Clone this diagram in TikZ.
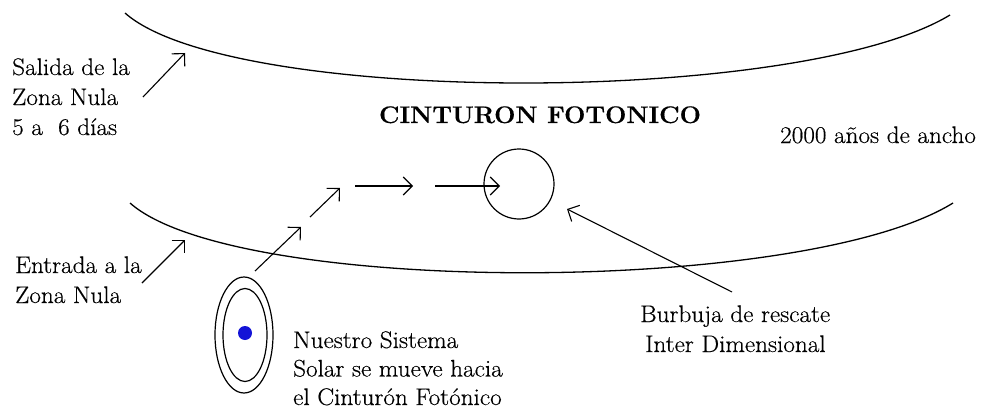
\documentclass[tikz,border=0pt]{standalone}
\usepackage{fontspec}
\setmainfont{Latin Modern Roman}[FakeStretch=1.05, FakeBold=0.4]
\usetikzlibrary{arrows.meta,shapes.geometric}
\definecolor{sunblue}{RGB}{20,20,215}
\tikzset{
  txt/.style={font=\fontsize{24}{30}\selectfont, inner sep=0pt, align=left, anchor=base west},
  title/.style={font=\fontsize{24}{28}\bfseries\selectfont, inner sep=0pt, anchor=base},
  arr/.style={line width=1.1pt, -{Straight Barb[length=9pt,width=18pt,line width=1.1pt]}},
  curve/.style={line width=1.3pt},
  orbit/.style={line width=1.2pt},
}
\begin{document}
\begin{tikzpicture}[x=1pt,y=-1pt]
\useasboundingbox (0,0) rectangle (988,412);
% belt boundaries
\coordinate (t0) at (125,13);  \coordinate (t1) at (950,15);
\coordinate (b0) at (130,203); \coordinate (b1) at (953,203);
\draw[curve] (t0) .. controls (230,106) and (800,106) .. (t1);
\draw[curve] (b0) .. controls (235,296) and (803,296) .. (b1);
% texts (base anchor = baseline of the last line)
\node[title] (belt) at (540,123) {CINTURON FOTONICO};
\node[txt] (width) at (780,143) {2000 años de ancho};
\node[txt] (exit) at (12,135) {Salida de la\\Zona Nula\\5 a\ \ 6 días};
\node[txt] (entry) at (15,303) {Entrada a la\\Zona Nula};
\node[txt, font=\fontsize{24}{28.5}\selectfont] (solar) at (293,405) {Nuestro Sistema\\Solar se mueve hacia\\el Cinturón Fotónico};
\node[txt] (bubtxt) at (640,352) {Burbuja de rescate\\\hspace{5pt}Inter Dimensional};
% solar system
\node[draw, orbit, ellipse, minimum width=58pt, minimum height=116pt, inner sep=0pt] (outer) at (244,335) {};
\node[draw, orbit, ellipse, minimum width=44pt, minimum height=93pt, inner sep=0pt] (inner) at (245,335) {};
\node[circle, fill=sunblue, minimum size=14pt, inner sep=0pt] (sun) at (245,333) {};
% bubble
\node[draw, orbit, circle, minimum size=70pt, inner sep=0pt] (bubble) at (519,184) {};
% arrow ends
\coordinate (e1s) at (143,97);  \coordinate (e1e) at (185,53);
\coordinate (e2s) at (142,283); \coordinate (e2e) at (185,240);
\coordinate (p1s) at (255,271); \coordinate (p1e) at (301,227);
\coordinate (p2s) at (310,217); \coordinate (p2e) at (340,188);
\coordinate (p3s) at (355,186); \coordinate (p3e) at (413,186);
\coordinate (p4s) at (435,186); \coordinate (p4e) at (500,186);
\coordinate (bs) at (732,292);  \coordinate (be) at (567,209);
\draw[arr] (e1s) -- (e1e);
\draw[arr] (e2s) -- (e2e);
\draw[arr] (p1s) -- (p1e);
\draw[arr] (p2s) -- (p2e);
\draw[arr] (p3s) -- (p3e);
\draw[arr] (p4s) -- (p4e);
\draw[arr] (bs) -- (be);
\end{tikzpicture}
\end{document}
